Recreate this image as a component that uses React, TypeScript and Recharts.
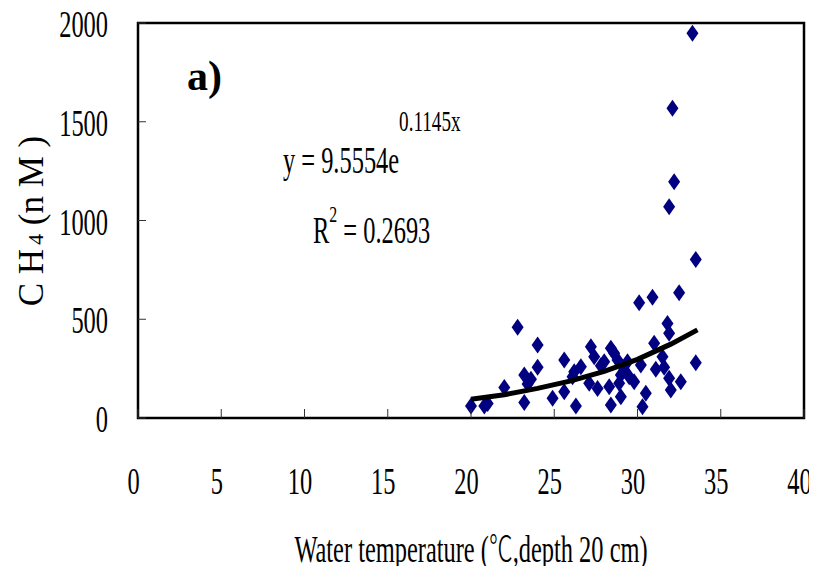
import React from "react";
import { ComposedChart, Scatter, XAxis, YAxis, ReferenceArea, Customized } from "recharts";

const tempValues = [20.0, 20.8, 21.0, 22.0, 22.8, 24.0, 24.0, 23.2, 23.6, 23.4, 23.2, 24.9, 25.6, 25.6, 26.3, 26.1, 26.2, 26.6, 27.2, 27.4, 27.1, 27.6, 28.0, 27.8, 28.4, 28.6, 28.3, 28.4, 28.8, 28.9, 29.0, 29.0, 29.2, 29.4, 29.5, 29.8, 30.2, 30.1, 30.9, 30.5, 30.3, 31.0, 31.5, 31.1, 31.6, 31.9, 32.6, 32.0, 31.8, 31.9, 32.5, 33.5, 33.3, 32.1, 32.2, 31.9, 33.5];
const ch4Values = [61, 61, 74, 155, 459, 370, 257, 218, 196, 172, 78, 100, 294, 133, 61, 209, 234, 260, 361, 310, 176, 150, 285, 265, 353, 328, 158, 66, 294, 176, 218, 108, 243, 285, 209, 184, 268, 584, 611, 125, 57, 378, 310, 247, 257, 201, 184, 142, 479, 429, 634, 280, 1948, 1568, 1196, 1070, 803];

const trendTemps = [20, 22, 24, 26, 28, 30, 32, 33.6];
const trendCh4 = [95, 118, 150, 188, 236, 297, 374, 446];

const xTicks = [0, 5, 10, 15, 20, 25, 30, 35, 40];
const yTicks = [0, 500, 1000, 1500, 2000];

const points = tempValues.map((t, i) => ({ x: t, y: ch4Values[i] }));
const trend = trendTemps.map((t, i) => ({ x: t, y: trendCh4[i] }));

const FONT = "'Liberation Serif', 'Times New Roman', serif";

function SText(props: any) {
  const { x, y, size, sx = 0.66, anchor = "start", weight = "normal", children } = props;
  return (
    <text
      transform={`translate(${x},${y}) scale(${sx},1)`}
      x={0}
      y={0}
      fontSize={size}
      fontFamily={FONT}
      fontWeight={weight}
      textAnchor={anchor}
      fill="#000"
    >
      {children}
    </text>
  );
}

const XTick = (props: any) => {
  const { x, y, payload } = props;
  return (
    <g>
      <line x1={x} x2={x} y1={y} y2={y - 9} stroke="#333" strokeWidth={1} />
      <SText x={x - 4.5} y={y + 76} size={37} anchor="middle">{String(payload.value)}</SText>
    </g>
  );
};

const YTick = (props: any) => {
  const { x, y, payload } = props;
  return (
    <g>
      <line x1={x} x2={x + 8} y1={y} y2={y} stroke="#333" strokeWidth={1} />
      <SText x={x - 30} y={y + 14} size={37} anchor="end">{String(payload.value)}</SText>
    </g>
  );
};

const Diamond = (props: any) => {
  const { cx, cy } = props;
  if (cx == null || cy == null) return <g />;
  return (
    <polygon
      points={`${cx},${cy - 8.5} ${cx + 6},${cy} ${cx},${cy + 8.5} ${cx - 6},${cy}`}
      fill="#000080"
      stroke="none"
    />
  );
};

const NoShape = () => <g />;

const Annotations = () => (
  <g>
    <SText x={187} y={90} size={42} sx={1} weight="bold">a)</SText>
    <SText x={283} y={173} size={37}>
      y = 9.5554e<tspan fontSize={29} dy={-42}>0.1145x</tspan>
    </SText>
    <SText x={313} y={243} size={37}>
      R<tspan fontSize={24} dy={-21}>2</tspan><tspan dy={21}> = 0.2693</tspan>
    </SText>
    <SText x={471} y={562} size={37} anchor="middle">
      Water temperature (<tspan fontFamily="'Noto Sans CJK SC'" fontWeight={300} fontSize={36}>℃</tspan>,depth 20 cm)
    </SText>
    <text
      transform="translate(43,221) rotate(-90)"
      fontSize={35}
      fontFamily={FONT}
      textAnchor="middle"
      fill="#000"
    >
      C H<tspan fontSize={22} dx={4}>4</tspan><tspan> (n M )</tspan>
    </text>
  </g>
);

export default function App() {
  return (
    <div style={{ margin: "-8px", width: 817, height: 574, background: "#fff", overflow: "visible" }}>
      <ComposedChart
        width={817}
        height={574}
        margin={{ top: 23, right: 13, bottom: 0, left: 0 }}
      >
        <XAxis
          type="number"
          dataKey="x"
          domain={[0, 40]}
          ticks={xTicks}
          interval={0}
          height={156}
          tickSize={0}
          tickMargin={0}
          axisLine={false}
          tickLine={false}
          tick={<XTick />}
        />
        <YAxis
          type="number"
          dataKey="y"
          domain={[0, 2000]}
          ticks={yTicks}
          interval={0}
          width={138}
          tickSize={0}
          tickMargin={0}
          axisLine={false}
          tickLine={false}
          tick={<YTick />}
        />
        <ReferenceArea x1={0} x2={40} y1={0} y2={2000} fill="none" stroke="#000" strokeWidth={2.5} />
        <Scatter data={points} dataKey="y" shape={<Diamond />} isAnimationActive={false} />
        <Scatter
          data={trend}
          dataKey="y"
          line={{ stroke: "#000", strokeWidth: 5 }}
          lineType="joint"
          shape={<NoShape />}
          isAnimationActive={false}
        />
        <Customized component={Annotations} />
      </ComposedChart>
    </div>
  );
}
